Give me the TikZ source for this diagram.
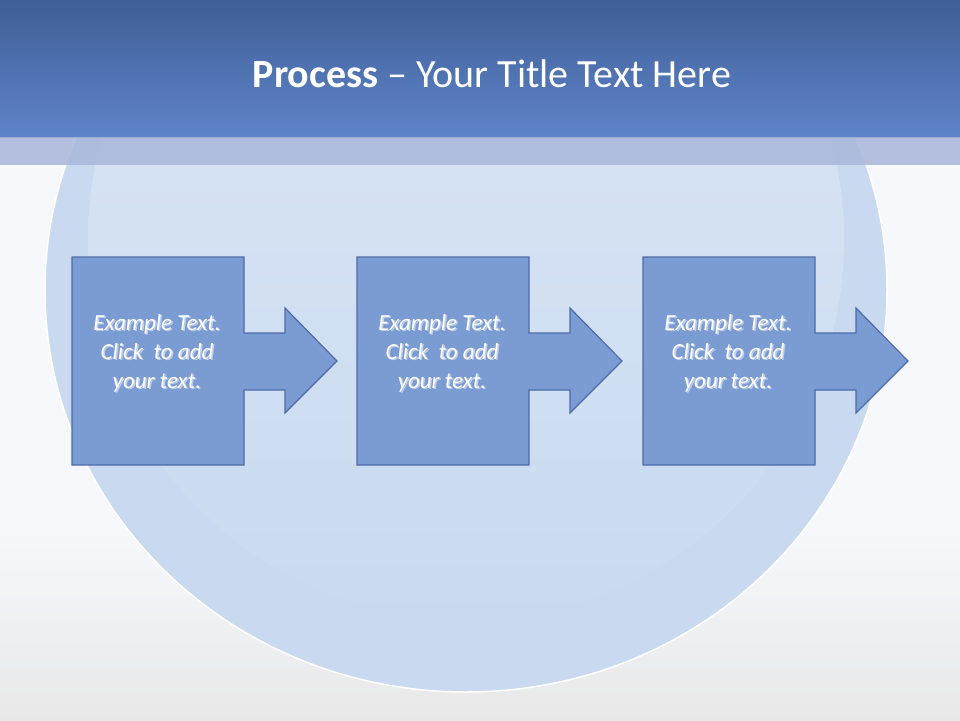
\documentclass[tikz,border=0pt]{standalone}
\usepackage{fontspec}
\setmainfont{Carlito}
\usetikzlibrary{shadows}
\definecolor{bg}{HTML}{F6F8FC}
\definecolor{ringc}{HTML}{C9DAF0}
\definecolor{innerc}{HTML}{C3D4EE}
\definecolor{hdtop}{HTML}{405E97}
\definecolor{hdbot}{HTML}{5E85C9}
\definecolor{strip}{HTML}{A9B6DA}
\definecolor{boxfill}{HTML}{7B9BD3}
\definecolor{boxline}{HTML}{4D6CA8}
\tikzset{
  procshape/.style={fill=boxfill,draw=boxline,line width=1.2pt},
  proctext/.style={text=white,font=\itshape\fontsize{23}{29}\selectfont,align=center}
}
\begin{document}
\begin{tikzpicture}[x=1pt,y=-1pt]
\useasboundingbox (0,0) rectangle (960,720);
\fill[bg] (0,0) rectangle (960,720);
\shade[top color=bg,bottom color=gray!18] (0,530) rectangle (960,720);
\fill[ringc] (466,290) ellipse [x radius=421, y radius=402];
\draw[white,line width=1.5pt] (466,290) ellipse [x radius=421, y radius=402];
\shade[top color=innerc!55!white,bottom color=ringc] (466,240) ellipse [x radius=378, y radius=380];
\shade[top color=hdtop,bottom color=hdbot] (0,0) rectangle (960,137);
\fill[strip,opacity=0.85] (0,137) rectangle (960,165);
\node[text=white,font=\fontsize{40}{44}\selectfont] (title) at (492,74) {\textbf{Process} – Your Title Text Here};
\foreach \i/\x in {1/72,2/357,3/643}{
  \draw[procshape] (\x,257) -- (\x+172,257) -- (\x+172,333) -- (\x+213,333) -- (\x+213,308) -- (\x+265,361) -- (\x+213,413) -- (\x+213,390) -- (\x+172,390) -- (\x+172,465) -- (\x,465) -- cycle;
  \node[text=black!60,opacity=0.5,proctext] at (\x+86.5,354.5) {Example Text.\\Click\ \ to add\\your text.};
  \node[proctext] (t\i) at (\x+85,353) {Example Text.\\Click\ \ to add\\your text.};
}
\end{tikzpicture}
\end{document}
